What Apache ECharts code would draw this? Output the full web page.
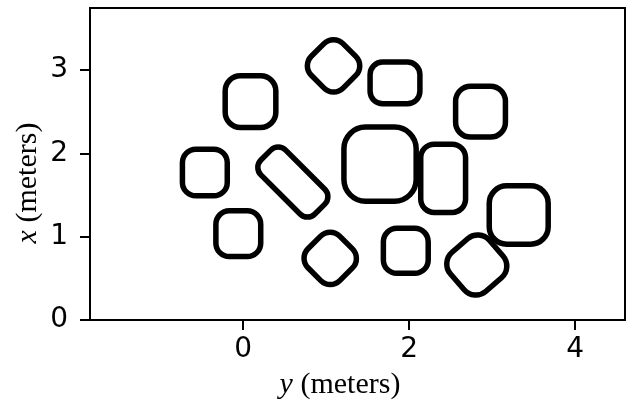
<!DOCTYPE html>
<html>
<head>
<meta charset="utf-8">
<script src="https://cdn.jsdelivr.net/npm/echarts@6/dist/echarts.min.js"></script>
<style>
  html, body { margin: 0; padding: 0; background: #fff; }
  #chart { width: 632px; height: 405px; }
</style>
</head>
<body>
<div id="chart"></div>
<script>
// Obstacles: centre along y (horizontal axis), centre along x (vertical axis),
// extent along y, extent along x (metres) and rotation (degrees).
var centerY = [1.09, 0.09, 1.83, 2.86, -0.46, 0.60, 1.65, 2.41, 3.32, -0.057, 1.05, 1.96, 2.815];
var centerX = [3.05, 2.62, 2.845, 2.50, 1.77, 1.655, 1.87, 1.70, 1.26, 1.036, 0.74, 0.83, 0.66];
var extentY = [0.54, 0.61, 0.60, 0.60, 0.54, 0.92, 0.87, 0.54, 0.71, 0.54, 0.54, 0.54, 0.62];
var extentX = [0.54, 0.62, 0.50, 0.61, 0.56, 0.42, 0.89, 0.82, 0.70, 0.55, 0.54, 0.54, 0.62];
var angles  = [45, 0, 0, 0, 0, -45, 0, 0, 0, 0, 45, 0, 41];

var xTicks = [0, 2, 4];
var yTicks = [0, 1, 2, 3];
var xRange = [-1.843, 4.60];
var yRange = [0, 3.744];

var data = centerY.map(function (v, i) {
  return [v, centerX[i], extentY[i], extentX[i], angles[i]];
});

var chart = echarts.init(document.getElementById('chart'), null, { renderer: 'canvas' });
var tickFont = 'DejaVu Sans';
var labelFont = 'Liberation Serif';

chart.setOption({
  animation: false,
  backgroundColor: '#fff',
  grid: {
    left: 90, right: 7, top: 8, bottom: 85,
    show: true, borderColor: '#000', borderWidth: 2, backgroundColor: 'transparent'
  },
  xAxis: {
    type: 'value', min: xRange[0], max: xRange[1],
    axisLine: { show: true, onZero: false, lineStyle: { color: '#000', width: 2 } },
    axisTick: { show: true, length: 10, customValues: xTicks, lineStyle: { color: '#000', width: 2 } },
    axisLabel: { customValues: xTicks, margin: 16, color: '#000', fontSize: 28, fontFamily: tickFont },
    splitLine: { show: false }
  },
  yAxis: {
    type: 'value', min: yRange[0], max: yRange[1],
    axisLine: { show: true, onZero: false, lineStyle: { color: '#000', width: 2 } },
    axisTick: { show: true, length: 10, customValues: yTicks, lineStyle: { color: '#000', width: 2 } },
    axisLabel: { customValues: yTicks, margin: 22, color: '#000', fontSize: 28, fontFamily: tickFont },
    splitLine: { show: false }
  },
  graphic: [
    {
      type: 'text', x: 340, y: 385,
      style: {
        text: '{i|y} (meters)',
        fontSize: 30, fontFamily: labelFont, fill: '#000',
        align: 'center', verticalAlign: 'middle',
        rich: { i: { fontStyle: 'italic', fontSize: 30, fontFamily: labelFont } }
      }
    },
    {
      type: 'text', x: 28, y: 183, rotation: Math.PI / 2,
      style: {
        text: '{i|x} (meters)',
        fontSize: 30, fontFamily: labelFont, fill: '#000',
        align: 'center', verticalAlign: 'middle',
        rich: { i: { fontStyle: 'italic', fontSize: 30, fontFamily: labelFont } }
      }
    }
  ],
  series: [{
    type: 'custom',
    coordinateSystem: 'cartesian2d',
    data: data,
    renderItem: function (params, api) {
      var c = api.coord([api.value(0), api.value(1)]);
      var s = api.size([api.value(2), api.value(3)]);
      var w = s[0], h = s[1];
      var r = Math.min(w, h) * 0.3;
      return {
        type: 'rect',
        x: c[0], y: c[1],
        rotation: api.value(4) * Math.PI / 180,
        shape: { x: -w / 2, y: -h / 2, width: w, height: h, r: r },
        style: { fill: 'none', stroke: '#000', lineWidth: 5.5 }
      };
    }
  }]
});
</script>
</body>
</html>
